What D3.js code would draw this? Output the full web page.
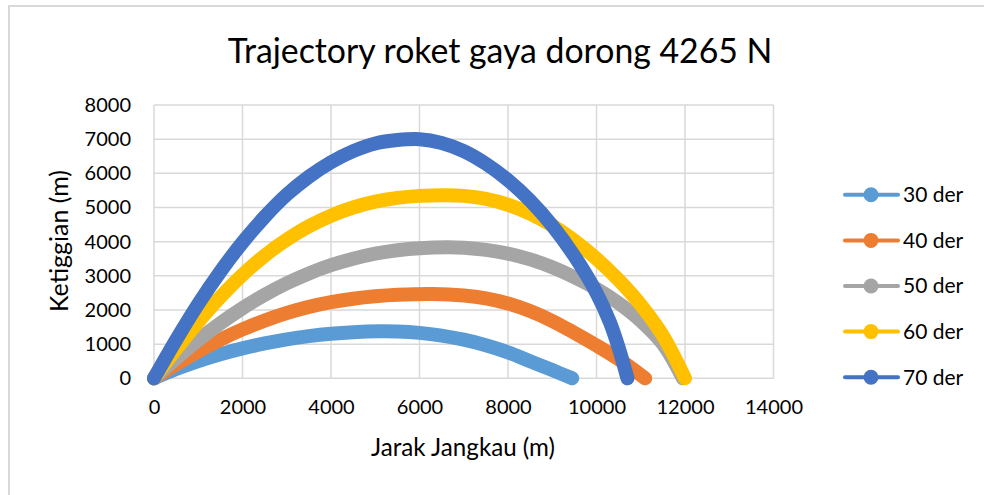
<!DOCTYPE html>
<html>
<head>
<meta charset="utf-8">
<script src="https://cdn.jsdelivr.net/npm/d3@7"></script>
<style>
  html, body { margin: 0; padding: 0; background: #fff; }
  svg { display: block; }
  text { font-family: Lato, "Open Sans", sans-serif; fill: #000; }
</style>
</head>
<body>
<svg id="chart" width="984" height="495"></svg>
<script>
const title = "Trajectory roket gaya dorong 4265 N";
const xTitle = "Jarak Jangkau (m)";
const yTitle = "Ketiggian (m)";
const xTicks = [0, 2000, 4000, 6000, 8000, 10000, 12000, 14000];
const yTicks = [0, 1000, 2000, 3000, 4000, 5000, 6000, 7000, 8000];
const seriesNames = ["30 der", "40 der", "50 der", "60 der", "70 der"];
const seriesColors = ["#5B9BD5", "#ED7D31", "#A5A5A5", "#FFC000", "#4472C4"];

// [jarak (m), ketinggian (m)]
const der30 = [[0,0],[500,270],[1000,505],[1500,705],[2000,875],[2500,1020],[3000,1140],[3500,1235],[4000,1305],[4500,1350],[5100,1375],[5500,1370],[6000,1330],[6500,1250],[7000,1130],[7500,970],[8000,760],[8500,500],[9000,240],[9450,0]];
const der40 = [[0,0],[500,410],[1000,790],[1500,1130],[2000,1430],[2500,1690],[3000,1910],[3500,2090],[4000,2230],[4500,2330],[5000,2400],[5500,2445],[6300,2470],[7000,2425],[7500,2340],[8000,2190],[8500,1970],[9000,1680],[9500,1330],[10000,960],[10500,560],[11100,0]];
const der50 = [[0,0],[500,580],[1000,1120],[1500,1610],[2000,2050],[2500,2440],[3000,2780],[3500,3070],[4000,3310],[4500,3500],[5000,3650],[5500,3750],[6000,3810],[6650,3835],[7000,3820],[7500,3760],[8000,3650],[8500,3480],[9000,3250],[9500,2960],[10000,2620],[10500,2200],[11000,1680],[11500,1000],[11950,0]];
const der60 = [[0,0],[500,850],[1000,1650],[1500,2380],[2000,3030],[2500,3590],[3000,4060],[3500,4450],[4000,4760],[4500,5000],[5000,5170],[5500,5280],[6000,5340],[6620,5360],[7000,5340],[7500,5250],[8000,5080],[8500,4820],[9000,4470],[9500,4030],[10000,3500],[10500,2880],[11000,2150],[11500,1250],[12000,0]];
const der70 = [[0,0],[500,1125],[1000,2175],[1500,3125],[2000,3975],[2500,4725],[3000,5375],[3500,5900],[4000,6325],[4500,6650],[5000,6875],[5500,6975],[6000,7000],[6500,6890],[7000,6650],[7500,6280],[8000,5800],[8500,5200],[9000,4470],[9500,3580],[10000,2500],[10300,1650],[10500,900],[10700,0]];
const seriesData = [der30, der40, der50, der60, der70];

const svg = d3.select("#chart");

// chart border
svg.append("rect").attr("x", 9).attr("y", 6).attr("width", 990).attr("height", 500)
  .attr("fill", "none").attr("stroke", "#d9d9d9").attr("stroke-width", 2);

const x = d3.scaleLinear().domain([0, 14000]).range([154, 773.5]);
const y = d3.scaleLinear().domain([0, 8000]).range([378.3, 105]);

// gridlines
const grid = svg.append("g");
grid.selectAll("line.h").data(yTicks).join("line")
  .attr("x1", x(0)).attr("x2", x(14000))
  .attr("y1", d => y(d)).attr("y2", d => y(d))
  .attr("stroke", "#d9d9d9").attr("stroke-width", 1.5);
grid.selectAll("line.v").data(xTicks).join("line")
  .attr("y1", y(0)).attr("y2", y(8000))
  .attr("x1", d => x(d)).attr("x2", d => x(d))
  .attr("stroke", "#d9d9d9").attr("stroke-width", 1.5);

// axes labels via d3 axes
const xAxis = svg.append("g").attr("transform", `translate(0,${y(0)})`)
  .call(d3.axisBottom(x).tickValues(xTicks).tickSize(0).tickPadding(22).tickFormat(d3.format("d")));
xAxis.select(".domain").remove();
xAxis.selectAll("text").attr("font-size", 20).attr("font-family", "Lato").attr("fill", "#000");

const yAxis = svg.append("g").attr("transform", `translate(${x(0)},0)`)
  .call(d3.axisLeft(y).tickValues(yTicks).tickSize(0).tickPadding(23).tickFormat(d3.format("d")));
yAxis.select(".domain").remove();
yAxis.selectAll("text").attr("font-size", 20).attr("font-family", "Lato").attr("fill", "#000");

// series
const line = d3.line().x(d => x(d[0])).y(d => y(d[1])).curve(d3.curveCatmullRom.alpha(0.5));
const sg = svg.append("g");
seriesData.forEach((s, i) => {
  sg.append("path").datum(s).attr("d", line)
    .attr("fill", "none").attr("stroke", seriesColors[i])
    .attr("stroke-width", 14).attr("stroke-linecap", "round").attr("stroke-linejoin", "round");
});

// text fitting helper
function fit(sel, target) {
  const n = sel.node();
  const fs = parseFloat(sel.attr("font-size"));
  const w = n.getComputedTextLength();
  sel.attr("font-size", fs * target / w);
}

const t = svg.append("text").attr("x", 500).attr("y", 63).attr("text-anchor", "middle")
  .attr("font-size", 30).text(title);
fit(t, 545);

const xt = svg.append("text").attr("x", 463).attr("y", 456).attr("text-anchor", "middle")
  .attr("font-size", 20).text(xTitle);
fit(xt, 184);

const yt = svg.append("text").attr("transform", "translate(68,241) rotate(-90)")
  .attr("text-anchor", "middle").attr("font-size", 20).text(yTitle);
fit(yt, 142);

// legend
const ly = d3.scaleBand().domain(seriesNames).range([172, 400]);
const lg = svg.append("g");
seriesNames.forEach((name, i) => {
  const cy = ly(name) + ly.bandwidth() / 2;
  lg.append("line").attr("x1", 845).attr("x2", 898).attr("y1", cy).attr("y2", cy)
    .attr("stroke", seriesColors[i]).attr("stroke-width", 4).attr("stroke-linecap", "round");
  lg.append("circle").attr("cx", 871).attr("cy", cy).attr("r", 7.5).attr("fill", seriesColors[i]);
  lg.append("text").attr("x", 903).attr("y", cy).attr("dy", "0.35em")
    .attr("font-size", 21).text(name);
});
</script>
</body>
</html>
